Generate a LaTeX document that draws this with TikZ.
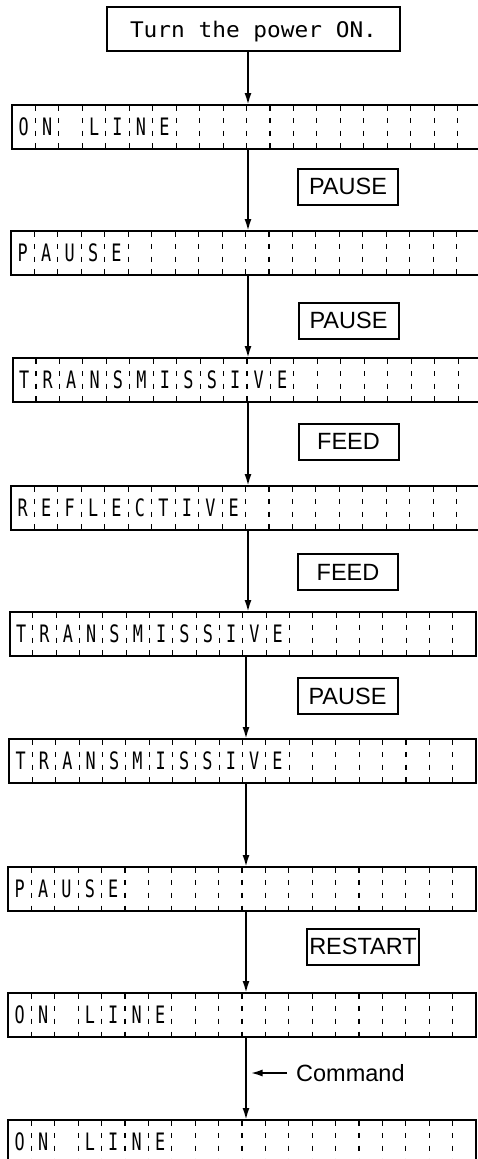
\documentclass[tikz,border=0pt]{standalone}
\usepackage{fontspec}
\setmainfont{Liberation Sans}
\newfontfamily\lcdfont[FakeStretch=0.7]{DejaVu Sans Mono}
\newfontfamily\pwrfont[FakeStretch=1.06]{DejaVu Sans Mono}
\usetikzlibrary{arrows.meta}
\tikzset{
  lcd/.style={draw, line width=2pt, inner sep=0pt, outer sep=0pt, minimum height=44pt, anchor=north west},
  divline/.style={line width=1.1pt, dash pattern=on 5.5pt off 7.33pt},
  lcdch/.style={inner sep=0pt, font=\lcdfont\fontsize{24}{28}\selectfont},
  lbl/.style={draw, line width=2pt, inner sep=0pt, minimum width=100pt, minimum height=36pt, font=\fontsize{23.5}{28}\selectfont},
  arr/.style={line width=2pt, -{Latex[length=12pt,width=7pt]}},
}
\newcommand\lcdrow[5]{%
  \node[lcd, minimum width=20*#4pt] (#1) at (#2,#3) {};
  \foreach \k in {1,...,19}{\draw[divline] ([xshift=\k*#4pt]#1.north west) -- ([xshift=\k*#4pt]#1.south west);}
  \foreach \c [count=\i] in {#5}{\node[lcdch] (#1-\i) at ([xshift=(\i-0.5)*#4pt]#1.west) {\c};}
}
\begin{document}
\begin{tikzpicture}[x=1pt,y=-1pt]
\useasboundingbox (0,0) rectangle (478,1159);
\clip (0,0) rectangle (478,1159);
\node[draw, line width=2pt, minimum width=293pt, minimum height=44pt, inner sep=0pt, text depth=0pt,
      font=\pwrfont\fontsize{21.5}{25}\selectfont] (pw) at (253.5,29) {Turn the power ON.};
\lcdrow{r1}{12}{105}{23.45}{O,N,{},L,I,N,E}
\lcdrow{r2}{11}{231}{23.45}{P,A,U,S,E}
\lcdrow{r3}{12.5}{358}{23.45}{T,R,A,N,S,M,I,S,S,I,V,E}
\lcdrow{r4}{11}{486}{23.45}{R,E,F,L,E,C,T,I,V,E}
\lcdrow{r5}{9.5}{612}{23.33}{T,R,A,N,S,M,I,S,S,I,V,E}
\lcdrow{r6}{9}{739}{23.35}{T,R,A,N,S,M,I,S,S,I,V,E}
\lcdrow{r7}{8}{867}{23.4}{P,A,U,S,E}
\lcdrow{r8}{8}{993}{23.4}{O,N,{},L,I,N,E}
\lcdrow{r9}{8}{1120}{23.4}{O,N,{},L,I,N,E}
\coordinate (axa) at (248,0);
\coordinate (axb) at (246,0);
\draw[arr] (pw.south -| axa) -- (r1.north -| axa);
\draw[arr] (r1.south -| axa) -- (r2.north -| axa);
\draw[arr] (r2.south -| axa) -- (r3.north -| axa);
\draw[arr] (r3.south -| axa) -- (r4.north -| axa);
\draw[arr] (r4.south -| axa) -- (r5.north -| axa);
\draw[arr] (r5.south -| axb) -- (r6.north -| axb);
\draw[arr] (r6.south -| axb) -- (r7.north -| axb);
\draw[arr] (r7.south -| axb) -- (r8.north -| axb);
\draw[arr] (r8.south -| axb) -- (r9.north -| axb);
\node[lbl] (k1) at (348,186.5) {PAUSE};
\node[lbl] (k2) at (348.5,320.5) {PAUSE};
\node[lbl] (k3) at (348.5,441.5) {FEED};
\node[lbl] (k4) at (348,572) {FEED};
\node[lbl] (k5) at (347.5,696) {PAUSE};
\node[lbl, minimum width=112pt] (k6) at (363,946.5) {RESTART};
\node[anchor=west, inner xsep=9pt, inner ysep=0pt, font=\fontsize{23.5}{28}\selectfont] (cmd) at (287,1073) {Command};
\coordinate (cmdtip) at (250.5,1073);
\draw[arr] (cmd.west) -- (cmdtip);
\end{tikzpicture}
\end{document}
